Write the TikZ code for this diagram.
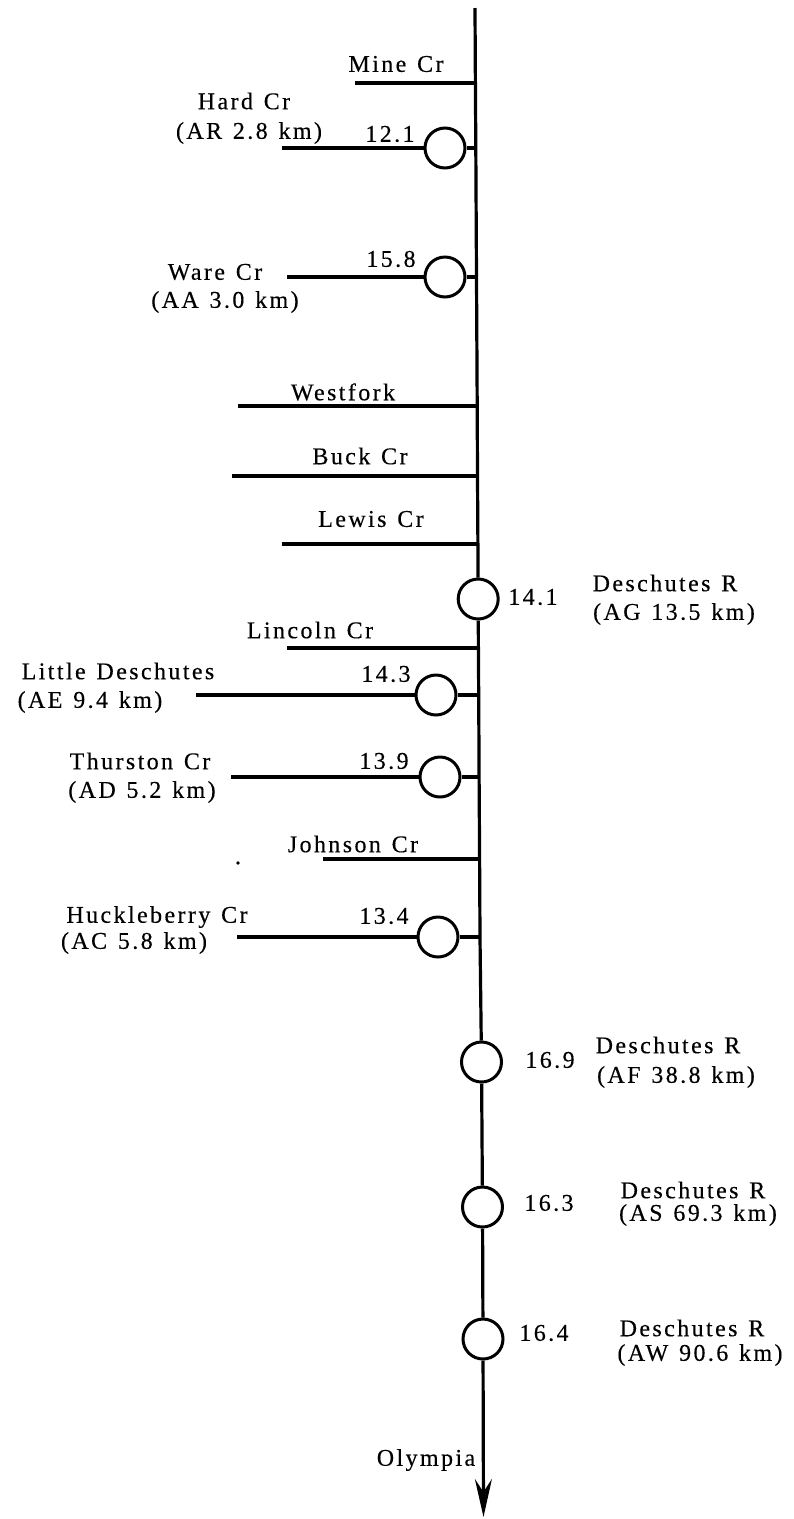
\documentclass[tikz,border=0pt]{standalone}
\usepackage{fontspec}
\usetikzlibrary{arrows.meta}
\newfontfamily\labfont[LetterSpace=10,FakeBold=0.3]{Liberation Serif}
\newcommand\labsetup{\labfont\fontsize{24}{28}\selectfont\spaceskip 0.45em\relax}
\tikzset{
  lab/.style={font=\labsetup, inner sep=0pt},
  stn/.style={circle, draw, line width=3pt, minimum size=40pt, inner sep=0pt, fill=white},
  riv/.style={line width=3.2pt},
}
\begin{document}
\begin{tikzpicture}[x=1pt,y=-1pt]
\useasboundingbox (0,0) rectangle (794,1519);
% main stem junctions
\coordinate (top) at (475,8);
\coordinate (jMine) at (475.4,83);
\coordinate (jHard) at (475.8,148);
\coordinate (jWare) at (476.5,277);
\coordinate (jWest) at (477.2,406);
\coordinate (jBuck) at (477.5,476);
\coordinate (jLewis) at (477.9,544);
\node[stn] (c141) at (478.2,599) {};
\coordinate (jLinc) at (478.4,648);
\coordinate (jLD) at (478.7,695);
\coordinate (jThur) at (479.1,777);
\coordinate (jJohn) at (479.6,859);
\coordinate (jHuck) at (480,937);
\node[stn] (c169) at (481.5,1062) {};
\node[stn] (c163) at (482.5,1207) {};
\node[stn] (c164) at (483,1339) {};
\coordinate (bot) at (483.5,1517);

\draw[riv] (top) -- (jMine) -- (jHard) -- (jWare) -- (jWest) -- (jBuck) -- (jLewis) -- (c141);
\draw[riv] (c141) -- (jLinc) -- (jLD) -- (jThur) -- (jJohn) -- (jHuck) -- (c169);
\draw[riv] (c169) -- (c163);
\draw[riv] (c163) -- (c164);
\draw[riv, -{Stealth[length=38pt,width=17pt,inset=13pt]}] (c164) -- (bot);

% Mine Cr
\coordinate (sMine) at (355,83);
\draw[riv] (sMine) -- (jMine);
\node[lab] (tMine) at (396,64) {Mine Cr};
% Hard Cr
\node[stn] (cHard) at (445,148) {};
\coordinate (sHard) at (282,148);
\draw[riv] (sHard) -- (cHard);
\draw[riv] (cHard) -- (jHard);
\node[lab] (tHard) at (244,101) {Hard Cr};
\node[lab] (tHard2) at (249,133) {(AR 2.8 km)};
\node[lab] (nHard) at (390,134) {12.1};
% Ware Cr
\node[stn] (cWare) at (445,277) {};
\coordinate (sWare) at (287,277);
\draw[riv] (sWare) -- (cWare);
\draw[riv] (cWare) -- (jWare);
\node[lab] (tWare) at (215,272) {Ware Cr};
\node[lab] (tWare2) at (225,302) {(AA 3.0 km)};
\node[lab] (nWare) at (391,259) {15.8};
% Westfork, Buck, Lewis
\coordinate (sWest) at (238,406);
\draw[riv] (sWest) -- (jWest);
\node[lab] (tWest) at (343,392) {Westfork};
\coordinate (sBuck) at (232,476);
\draw[riv] (sBuck) -- (jBuck);
\node[lab] (tBuck) at (360,456) {Buck Cr};
\coordinate (sLewis) at (282,544);
\draw[riv] (sLewis) -- (jLewis);
\node[lab] (tLewis) at (371,519) {Lewis Cr};
% 14.1
\node[lab] (n141) at (533,597) {14.1};
\node[lab] (t141) at (665,583) {Deschutes R};
\node[lab] (t141b) at (674,614) {(AG 13.5 km)};
% Lincoln
\coordinate (sLinc) at (287,648);
\draw[riv] (sLinc) -- (jLinc);
\node[lab] (tLinc) at (310,630) {Lincoln Cr};
% Little Deschutes
\node[stn] (cLD) at (436,695) {};
\coordinate (sLD) at (196,695);
\draw[riv] (sLD) -- (cLD);
\draw[riv] (cLD) -- (jLD);
\node[lab] (tLD) at (118,671) {Little Deschutes};
\node[lab] (tLD2) at (90,702) {(AE 9.4 km)};
\node[lab] (nLD) at (386,674) {14.3};
% Thurston
\node[stn] (cThur) at (440,777) {};
\coordinate (sThur) at (231,777);
\draw[riv] (sThur) -- (cThur);
\draw[riv] (cThur) -- (jThur);
\node[lab] (tThur) at (140,761) {Thurston Cr};
\node[lab] (tThur2) at (142,792) {(AD 5.2 km)};
\node[lab] (nThur) at (384,761) {13.9};
% Johnson
\coordinate (sJohn) at (323,859);
\draw[riv] (sJohn) -- (jJohn);
\node[lab] (tJohn) at (353,844) {Johnson Cr};
\fill (238,863) circle (1.8pt);
% Huckleberry
\node[stn] (cHuck) at (438,937) {};
\coordinate (sHuck) at (237,937);
\draw[riv] (sHuck) -- (cHuck);
\draw[riv] (cHuck) -- (jHuck);
\node[lab] (tHuck) at (157,917) {Huckleberry Cr};
\node[lab] (tHuck2) at (134,943) {(AC 5.8 km)};
\node[lab] (nHuck) at (384,916) {13.4};
% lower stations
\node[lab] (n169) at (550,1060) {16.9};
\node[lab] (t169) at (668,1045) {Deschutes R};
\node[lab] (t169b) at (676,1077) {(AF 38.8 km)};
\node[lab] (n163) at (549,1203) {16.3};
\node[lab] (t163) at (693,1190) {Deschutes R};
\node[lab] (t163b) at (698,1215) {(AS 69.3 km)};
\node[lab] (n164) at (544,1333) {16.4};
\node[lab] (t164) at (692,1328) {Deschutes R};
\node[lab] (t164b) at (700,1355) {(AW 90.6 km)};
\node[lab] (tOly) at (426,1460) {Olympia};
\end{tikzpicture}
\end{document}
